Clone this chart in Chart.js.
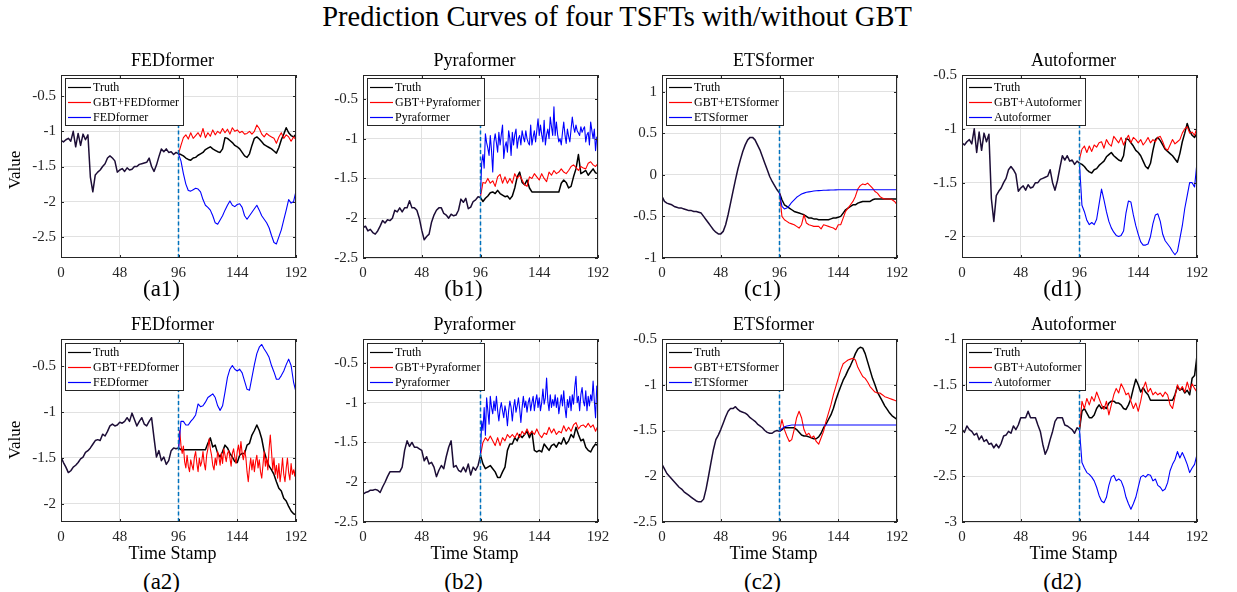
<!DOCTYPE html>
<html><head><meta charset="utf-8">
<script src="https://cdn.jsdelivr.net/npm/chart.js@4.4.0/dist/chart.umd.min.js"></script>
<style>
body{margin:0;background:#fff;}
#fig{position:relative;width:1237px;height:592px;overflow:hidden;font-family:"Liberation Serif","Times New Roman",serif;color:#000;background:#fff;}
.txt{position:absolute;white-space:nowrap;line-height:1;transform:translateX(-50%);}
.vlab{position:absolute;white-space:nowrap;line-height:1;transform:translate(-50%,-50%) rotate(-90deg);}
canvas{position:absolute;}
.legend{position:absolute;background:#fff;border:1px solid #262626;padding:1px 4px 0 2px;font-size:12px;line-height:15px;color:#000;z-index:5;}
.legend .row{display:flex;align-items:center;height:15px;white-space:nowrap;}
.legend svg{display:block;flex:none;margin-right:2px;}
</style></head>
<body>
<div id="fig"></div>
<script>
// ---------------- data ----------------
const timeTicks = [0, 48, 96, 144, 192];
const splitT = 96;

const yTicksA1 = [-2.5, -2, -1.5, -1, -0.5];
const yTicksB1 = [-2.5, -2, -1.5, -1, -0.5];
const yTicksC1 = [-1, -0.5, 0, 0.5, 1];
const yTicksD1 = [-2, -1.5, -1, -0.5];
const yTicksA2 = [-2, -1.5, -1, -0.5];
const yTicksB2 = [-2.5, -2, -1.5, -1, -0.5];
const yTicksC2 = [-2.5, -2, -1.5, -1, -0.5];
const yTicksD2 = [-3, -2.5, -2, -1.5, -1];

// Truth, sampled every 2 time stamps from 0 to 192
const truth_a1d1 = [-1.13,-1.15,-1.12,-1.1,-1.14,-1.0,-1.22,-1.03,-1.2,-1.04,-1.12,-1.05,
 -1.65,-1.86,-1.62,-1.58,-1.55,-1.5,-1.46,-1.38,-1.35,-1.38,-1.42,-1.58,
 -1.55,-1.53,-1.57,-1.52,-1.55,-1.54,-1.5,-1.5,-1.47,-1.46,-1.45,-1.44,
 -1.38,-1.5,-1.57,-1.48,-1.36,-1.25,-1.29,-1.25,-1.3,-1.29,-1.33,-1.3,-1.32,
 -1.33,-1.35,-1.38,-1.4,-1.41,-1.38,-1.37,-1.34,-1.32,-1.3,-1.26,-1.24,
 -1.22,-1.25,-1.27,-1.29,-1.3,-1.25,-1.09,-1.1,-1.13,-1.16,-1.2,-1.22,
 -1.25,-1.3,-1.35,-1.37,-1.32,-1.2,-1.1,-1.08,-1.11,-1.15,-1.19,-1.21,
 -1.23,-1.25,-1.28,-1.31,-1.23,-1.12,-1.04,-0.95,-1.02,-1.06,-1.08,-1.04];
const truth_b1 = [-2.12,-2.1,-2.16,-2.14,-2.18,-2.2,-2.16,-2.1,-2.03,-2.06,-2.02,-2.03,
 -2.0,-1.9,-1.92,-1.87,-1.92,-1.87,-1.87,-1.78,-1.87,-1.87,-1.9,-2.0,
 -2.15,-2.27,-2.23,-2.2,-2.05,-1.96,-1.9,-1.87,-1.87,-1.94,-1.96,-2.0,
 -1.95,-1.97,-1.96,-1.9,-1.76,-1.8,-1.75,-1.88,-1.86,-1.79,-1.77,-1.73,-1.74,
 -1.79,-1.75,-1.72,-1.68,-1.67,-1.69,-1.65,-1.69,-1.71,-1.73,-1.72,-1.76,
 -1.72,-1.62,-1.48,-1.42,-1.55,-1.58,-1.52,-1.62,-1.67,-1.67,-1.67,-1.67,
 -1.67,-1.67,-1.67,-1.67,-1.67,-1.67,-1.67,-1.67,-1.56,-1.52,-1.55,-1.62,
 -1.6,-1.48,-1.38,-1.2,-1.44,-1.42,-1.4,-1.46,-1.42,-1.38,-1.43,-1.44];
const truth_c1 = [-0.26,-0.32,-0.34,-0.35,-0.36,-0.38,-0.39,-0.4,-0.4,-0.41,-0.42,-0.43,
 -0.43,-0.44,-0.44,-0.45,-0.46,-0.5,-0.54,-0.58,-0.62,-0.66,-0.69,-0.71,
 -0.71,-0.68,-0.6,-0.48,-0.34,-0.2,-0.06,0.07,0.18,0.28,0.36,0.42,
 0.45,0.45,0.42,0.36,0.3,0.22,0.14,0.06,-0.02,-0.08,-0.13,-0.18,-0.22,
 -0.3,-0.36,-0.38,-0.4,-0.42,-0.44,-0.45,-0.46,-0.47,-0.48,-0.5,-0.52,
 -0.52,-0.53,-0.53,-0.54,-0.54,-0.54,-0.54,-0.54,-0.53,-0.52,-0.52,-0.51,
 -0.5,-0.46,-0.42,-0.4,-0.38,-0.36,-0.36,-0.34,-0.33,-0.32,-0.32,-0.32,
 -0.32,-0.3,-0.29,-0.29,-0.29,-0.29,-0.29,-0.29,-0.29,-0.29,-0.29,-0.29];
const truth_a2 = [-1.49,-1.55,-1.6,-1.66,-1.64,-1.6,-1.58,-1.55,-1.51,-1.49,-1.44,-1.42,
 -1.39,-1.35,-1.31,-1.3,-1.31,-1.24,-1.26,-1.21,-1.15,-1.13,-1.15,-1.14,
 -1.11,-1.12,-1.1,-1.06,-1.1,-1.01,-1.08,-1.15,-1.1,-1.06,-1.13,-1.15,
 -1.1,-1.06,-1.28,-1.49,-1.42,-1.53,-1.49,-1.57,-1.53,-1.42,-1.39,-1.4,-1.39,
 -1.41,-1.41,-1.41,-1.41,-1.41,-1.41,-1.41,-1.41,-1.41,-1.41,-1.41,-1.34,
 -1.28,-1.38,-1.36,-1.45,-1.49,-1.43,-1.36,-1.39,-1.45,-1.49,-1.54,-1.55,
 -1.47,-1.45,-1.45,-1.36,-1.34,-1.25,-1.2,-1.14,-1.2,-1.29,-1.43,-1.52,
 -1.59,-1.63,-1.68,-1.76,-1.83,-1.86,-1.94,-1.97,-2.03,-2.08,-2.11,-2.12];
const truth_b2 = [-2.15,-2.13,-2.12,-2.1,-2.1,-2.09,-2.1,-2.13,-2.06,-2.0,-1.93,-1.87,
 -1.87,-1.87,-1.87,-1.87,-1.81,-1.6,-1.48,-1.55,-1.5,-1.56,-1.56,-1.58,
 -1.6,-1.73,-1.68,-1.77,-1.75,-1.81,-1.93,-1.85,-1.79,-1.83,-1.68,-1.56,
 -1.48,-1.81,-1.79,-1.85,-1.87,-1.81,-1.87,-1.77,-1.91,-1.81,-1.85,-1.79,-1.66,
 -1.77,-1.83,-1.81,-1.79,-1.83,-1.87,-1.94,-1.94,-1.87,-1.81,-1.6,-1.52,
 -1.52,-1.44,-1.48,-1.4,-1.44,-1.4,-1.36,-1.44,-1.36,-1.6,-1.62,-1.6,
 -1.62,-1.52,-1.56,-1.6,-1.54,-1.52,-1.56,-1.5,-1.52,-1.44,-1.52,-1.48,
 -1.4,-1.44,-1.31,-1.4,-1.48,-1.46,-1.56,-1.6,-1.62,-1.56,-1.52,-1.54];
const truth_c2 = [-1.87,-1.92,-1.97,-2.0,-2.03,-2.06,-2.09,-2.12,-2.14,-2.17,-2.19,-2.21,
 -2.23,-2.25,-2.27,-2.28,-2.28,-2.25,-2.14,-2.0,-1.85,-1.71,-1.6,-1.55,
 -1.49,-1.42,-1.35,-1.29,-1.26,-1.26,-1.24,-1.27,-1.29,-1.3,-1.31,-1.33,
 -1.36,-1.38,-1.4,-1.43,-1.45,-1.47,-1.5,-1.52,-1.53,-1.53,-1.51,-1.5,-1.51,
 -1.49,-1.47,-1.47,-1.47,-1.47,-1.47,-1.49,-1.52,-1.55,-1.56,-1.56,-1.57,
 -1.58,-1.59,-1.59,-1.57,-1.53,-1.47,-1.43,-1.38,-1.33,-1.26,-1.17,-1.09,
 -1.02,-0.95,-0.9,-0.84,-0.79,-0.73,-0.66,-0.61,-0.59,-0.6,-0.66,-0.75,
 -0.84,-0.93,-1.0,-1.08,-1.13,-1.18,-1.23,-1.27,-1.31,-1.34,-1.36,-1.38];
const truth_d2 = [-1.99,-2.02,-1.95,-1.99,-2.01,-2.05,-2.03,-2.1,-2.06,-2.12,-2.1,-2.15,
 -2.14,-2.19,-2.15,-2.19,-2.14,-2.06,-2.05,-2.01,-2.03,-1.95,-1.99,-1.94,
 -1.86,-1.86,-1.86,-1.79,-1.86,-1.86,-1.86,-1.94,-2.01,-2.15,-2.26,-2.2,
 -2.1,-2.01,-1.9,-1.86,-1.86,-1.86,-1.94,-1.95,-1.97,-1.99,-2.03,-1.97,-1.99,
 -1.79,-1.76,-1.81,-1.86,-1.86,-1.83,-1.76,-1.72,-1.76,-1.74,-1.76,-1.7,
 -1.68,-1.68,-1.7,-1.7,-1.72,-1.76,-1.77,-1.72,-1.65,-1.54,-1.44,-1.5,
 -1.58,-1.53,-1.58,-1.61,-1.67,-1.67,-1.67,-1.67,-1.67,-1.67,-1.67,-1.67,
 -1.67,-1.67,-1.61,-1.52,-1.56,-1.54,-1.59,-1.56,-1.61,-1.43,-1.4,-1.18];

// Predictions from time stamp 96 to 192 (GBT+model in red, plain model in blue)
const gbt_a1 = [-1.32,-1.2,-1.09,-1.05,-1.11,-1.02,-1.1,-1.06,-1.02,-1.08,-0.96,-1.09,
 -1.02,-1.07,-0.98,-1.05,-1.0,-1.03,-0.96,-1.02,-0.97,-1.04,-0.95,-1.0,
 -0.98,-1.02,-1.0,-1.04,-1.03,-1.0,-1.04,-1.0,-0.91,-0.96,-1.04,-1.08,
 -1.03,-1.06,-1.08,-1.1,-1.17,-1.08,-1.02,-1.1,-1.05,-1.08,-1.14,-1.08,-1.12];
const base_a1 = [-1.32,-1.42,-1.6,-1.75,-1.84,-1.85,-1.83,-1.81,-1.82,-1.86,-1.97,-2.05,
 -2.08,-2.12,-2.2,-2.3,-2.32,-2.26,-2.2,-2.12,-2.05,-1.99,-2.05,-2.07,
 -2.04,-2.03,-2.08,-2.2,-2.25,-2.2,-2.15,-2.1,-2.05,-2.12,-2.2,-2.25,
 -2.3,-2.37,-2.48,-2.58,-2.6,-2.5,-2.4,-2.26,-2.12,-1.97,-2.02,-2.0,-1.85];
const gbt_b1 = [-1.73,-1.55,-1.56,-1.5,-1.56,-1.53,-1.6,-1.48,-1.45,-1.56,-1.48,-1.56,
 -1.5,-1.56,-1.44,-1.5,-1.46,-1.52,-1.58,-1.6,-1.48,-1.5,-1.44,-1.48,
 -1.52,-1.44,-1.5,-1.54,-1.42,-1.46,-1.4,-1.44,-1.42,-1.38,-1.42,-1.44,
 -1.4,-1.35,-1.33,-1.36,-1.4,-1.35,-1.37,-1.38,-1.31,-1.29,-1.33,-1.35,-1.31];
const base_b1 = [-1.7,-1.3,-1.2,-1.37,-0.94,-1.05,-1.12,-1.21,-0.96,-1.15,
 -1.42,-1.04,-0.94,-1.05,-1.17,-0.92,-1.08,-0.95,-0.83,-1.25,
 -1.1,-1.04,-1.17,-0.9,-1.0,-1.21,-0.92,-1.08,-0.95,-0.88,
 -1.12,-1.0,-0.96,-1.08,-0.9,-0.98,-1.04,-0.9,-1.0,-1.05,
 -1.08,-0.83,-1.08,-0.98,-0.9,-1.04,-0.9,-0.75,-0.96,-0.83,
 -0.95,-1.04,-0.77,-1.08,-0.95,-0.88,-1.0,-0.73,-0.85,-0.96,
 -0.6,-0.96,-0.79,-0.95,-1.04,-1.0,-1.08,-0.92,-0.79,-0.95,
 -1.06,-0.88,-0.97,-1.04,-0.88,-0.73,-0.85,-0.92,-0.83,-0.9,
 -0.93,-0.96,-0.85,-0.92,-0.88,-0.85,-1.04,-0.95,-0.92,-1.08,
 -0.79,-0.9,-1.0,-0.88,-1.15,-0.98,-1.0];
const gbt_c1 = [-0.22,-0.5,-0.54,-0.56,-0.58,-0.59,-0.6,-0.62,-0.64,-0.6,-0.48,-0.58,
 -0.6,-0.61,-0.62,-0.62,-0.62,-0.65,-0.6,-0.61,-0.62,-0.63,-0.64,-0.66,
 -0.6,-0.6,-0.52,-0.44,-0.4,-0.36,-0.32,-0.26,-0.17,-0.13,-0.11,-0.12,
 -0.1,-0.13,-0.16,-0.2,-0.22,-0.26,-0.28,-0.29,-0.29,-0.29,-0.3,-0.32,-0.36];
const base_c1 = [-0.22,-0.38,-0.41,-0.4,-0.37,-0.33,-0.3,-0.27,-0.25,-0.23,-0.22,-0.21,
 -0.205,-0.2,-0.195,-0.192,-0.19,-0.188,-0.186,-0.185,-0.184,-0.183,-0.182,-0.181,-0.18,
 -0.18,-0.18,-0.18,-0.18,-0.18,-0.18,-0.18,-0.18,-0.18,-0.18,-0.18,-0.18,
 -0.18,-0.18,-0.18,-0.18,-0.18,-0.18,-0.18,-0.18,-0.18,-0.18,-0.18,-0.18];
const gbt_d1 = [-1.28,-1.19,-1.16,-1.22,-1.16,-1.21,-1.15,-1.17,-1.13,-1.12,-1.18,-1.1,
 -1.14,-1.16,-1.07,-1.1,-1.13,-1.08,-1.15,-1.1,-1.06,-1.13,-1.08,-1.1,
 -1.13,-1.1,-1.15,-1.12,-1.08,-1.13,-1.1,-1.12,-1.08,-1.07,-1.12,-1.18,
 -1.2,-1.15,-1.1,-1.14,-1.12,-1.1,-1.04,-1.0,-0.98,-1.04,-1.03,-1.06,-0.99];
const base_d1 = [-1.33,-1.71,-1.77,-1.85,-1.89,-1.87,-1.89,-1.84,-1.7,-1.56,
 -1.66,-1.77,-1.86,-1.92,-1.96,-1.99,-2.0,-1.99,-1.95,-1.78,
 -1.67,-1.68,-1.8,-1.9,-1.98,-2.05,-2.08,-2.08,-2.07,-2.0,
 -1.88,-1.8,-1.79,-1.86,-1.98,-2.04,-2.07,-2.1,-2.14,-2.17,
 -2.14,-2.02,-1.9,-1.74,-1.62,-1.5,-1.5,-1.54,-1.31];
const gbt_a2 = [-1.41,-1.2,-1.36,-1.45,-1.37,-1.54,-1.61,-1.47,-1.59,-1.65,
 -1.52,-1.58,-1.63,-1.49,-1.43,-1.56,-1.65,-1.5,-1.59,-1.54,
 -1.43,-1.56,-1.63,-1.47,-1.4,-1.29,-1.4,-1.47,-1.58,-1.63,
 -1.5,-1.58,-1.43,-1.49,-1.58,-1.45,-1.56,-1.4,-1.47,-1.54,
 -1.45,-1.42,-1.5,-1.59,-1.45,-1.4,-1.49,-1.56,-1.43,-1.36,
 -1.47,-1.32,-1.45,-1.52,-1.42,-1.49,-1.65,-1.76,-1.61,-1.5,
 -1.63,-1.52,-1.65,-1.54,-1.47,-1.61,-1.52,-1.65,-1.72,-1.58,
 -1.43,-1.59,-1.5,-1.63,-1.4,-1.25,-1.43,-1.63,-1.5,-1.68,
 -1.58,-1.72,-1.56,-1.76,-1.65,-1.5,-1.68,-1.76,-1.61,-1.5,
 -1.66,-1.74,-1.56,-1.68,-1.63,-1.7,-1.54];
const base_a2 = [-1.41,-1.1,-1.1,-1.14,-1.14,-1.1,-1.07,-1.03,-0.91,-0.94,-0.93,-0.89,
 -0.84,-0.82,-0.8,-0.84,-0.93,-0.98,-0.93,-0.78,-0.62,-0.53,-0.49,-0.53,
 -0.55,-0.53,-0.57,-0.66,-0.75,-0.76,-0.62,-0.48,-0.36,-0.29,-0.26,-0.31,
 -0.35,-0.4,-0.49,-0.56,-0.64,-0.64,-0.6,-0.55,-0.48,-0.42,-0.49,-0.67,-0.78];
const gbt_b2 = [-1.66,-1.5,-1.44,-1.48,-1.42,-1.48,-1.54,-1.44,-1.54,-1.44,-1.48,-1.4,
 -1.44,-1.4,-1.44,-1.38,-1.44,-1.36,-1.4,-1.33,-1.4,-1.36,-1.4,-1.33,
 -1.4,-1.44,-1.38,-1.4,-1.31,-1.38,-1.33,-1.4,-1.36,-1.38,-1.29,-1.36,
 -1.31,-1.36,-1.28,-1.25,-1.33,-1.29,-1.28,-1.31,-1.26,-1.31,-1.28,-1.36,-1.29];
const base_b2 = [-1.64,-1.23,-1.35,-1.06,-1.41,-0.94,-1.1,-1.27,-0.92,-1.06,
 -1.14,-0.98,-1.1,-0.92,-1.1,-1.23,-1.08,-1.0,-1.1,-1.19,
 -1.04,-1.12,-1.29,-1.1,-0.98,-1.06,-1.23,-1.06,-0.96,-1.12,
 -1.04,-0.94,-1.08,-1.25,-1.06,-0.92,-1.06,-0.98,-1.12,-1.0,
 -0.94,-1.1,-1.0,-0.92,-1.1,-0.98,-0.9,-1.06,-0.94,-1.1,
 -1.0,-0.83,-1.02,-0.94,-0.69,-0.98,-1.1,-0.9,-1.06,-0.96,
 -1.04,-0.9,-1.06,-0.94,-1.14,-1.02,-0.9,-1.04,-0.85,-1.06,
 -1.19,-0.96,-1.06,-0.92,-1.1,-0.9,-1.02,-0.81,-0.67,-1.0,
 -0.92,-1.1,-0.9,-0.81,-0.98,-1.04,-0.85,-1.1,-0.92,-1.04,
 -0.9,-0.98,-0.73,-0.98,-1.19,-0.79,-0.98];
const gbt_c2 = [-1.51,-1.38,-1.49,-1.56,-1.62,-1.6,-1.49,-1.36,-1.29,-1.36,-1.49,-1.55,
 -1.53,-1.58,-1.56,-1.62,-1.65,-1.58,-1.51,-1.4,-1.31,-1.22,-1.11,-1.02,
 -0.93,-0.84,-0.77,-0.75,-0.73,-0.72,-0.71,-0.73,-0.81,-0.86,-0.91,-0.93,
 -0.97,-1.02,-1.05,-1.08,-1.09,-1.09,-1.11,-1.13,-1.14,-1.15,-1.16,-1.17,-1.18];
const base_c2 = [-1.51,-1.48,-1.46,-1.45,-1.445,
 -1.44,-1.44,-1.44,-1.44,-1.44,-1.44,-1.44,-1.44,-1.44,-1.44,-1.44,
 -1.44,-1.44,-1.44,-1.44,-1.44,-1.44,-1.44,-1.44,-1.44,-1.44,-1.44,
 -1.44,-1.44,-1.44,-1.44,-1.44,-1.44,-1.44,-1.44,-1.44,-1.44,-1.44,
 -1.44,-1.44,-1.44,-1.44,-1.44,-1.44,-1.44,-1.44,-1.44,-1.44,-1.44];
const gbt_d2 = [-1.99,-1.68,-1.76,-1.65,-1.72,-1.63,-1.68,-1.58,-1.65,-1.72,-1.77,-1.68,
 -1.83,-1.72,-1.61,-1.54,-1.59,-1.49,-1.54,-1.61,-1.59,-1.68,-1.76,-1.7,
 -1.79,-1.68,-1.54,-1.47,-1.58,-1.54,-1.61,-1.58,-1.61,-1.59,-1.63,-1.58,
 -1.61,-1.72,-1.76,-1.63,-1.5,-1.56,-1.52,-1.58,-1.47,-1.56,-1.49,-1.54,-1.58];
const base_d2 = [-1.99,-2.35,-2.41,-2.46,-2.48,-2.51,-2.55,-2.62,-2.71,-2.77,-2.79,-2.73,
 -2.6,-2.51,-2.49,-2.55,-2.53,-2.55,-2.62,-2.73,-2.8,-2.86,-2.8,-2.73,
 -2.62,-2.51,-2.49,-2.51,-2.48,-2.49,-2.55,-2.53,-2.6,-2.62,-2.66,-2.64,
 -2.57,-2.44,-2.37,-2.32,-2.23,-2.3,-2.24,-2.3,-2.37,-2.46,-2.41,-2.37,-2.26];

// ---------------- layout ----------------
const colLeft = [61, 363, 662, 962];
const rowTop = [73, 337];
const plotW = 235, plotH = 185;
const YW = 50, PT = 12, PR = 18, XH = 30;
const FONT = '"Liberation Serif","Times New Roman",serif';

const panels = [
 {col:0,row:0,title:'FEDformer',tag:'(a1)',yMin:-2.8,yMax:-0.2,yTicks:yTicksA1,truth:truth_a1d1,gbt:gbt_a1,gbtStep:2,base:base_a1,baseStep:2,model:'FEDformer'},
 {col:1,row:0,title:'Pyraformer',tag:'(b1)',yMin:-2.5,yMax:-0.2,yTicks:yTicksB1,truth:truth_b1,gbt:gbt_b1,gbtStep:2,base:base_b1,baseStep:1,model:'Pyraformer'},
 {col:2,row:0,title:'ETSformer',tag:'(c1)',yMin:-1,yMax:1.2,yTicks:yTicksC1,truth:truth_c1,gbt:gbt_c1,gbtStep:2,base:base_c1,baseStep:2,model:'ETSformer'},
 {col:3,row:0,title:'Autoformer',tag:'(d1)',yMin:-2.2,yMax:-0.5,yTicks:yTicksD1,truth:truth_a1d1,gbt:gbt_d1,gbtStep:2,base:base_d1,baseStep:2,model:'Autoformer'},
 {col:0,row:1,title:'FEDformer',tag:'(a2)',yMin:-2.2,yMax:-0.2,yTicks:yTicksA2,truth:truth_a2,gbt:gbt_a2,gbtStep:1,base:base_a2,baseStep:2,model:'FEDformer'},
 {col:1,row:1,title:'Pyraformer',tag:'(b2)',yMin:-2.5,yMax:-0.2,yTicks:yTicksB2,truth:truth_b2,gbt:gbt_b2,gbtStep:2,base:base_b2,baseStep:1,model:'Pyraformer'},
 {col:2,row:1,title:'ETSformer',tag:'(c2)',yMin:-2.5,yMax:-0.5,yTicks:yTicksC2,truth:truth_c2,gbt:gbt_c2,gbtStep:2,base:base_c2,baseStep:2,model:'ETSformer'},
 {col:3,row:1,title:'Autoformer',tag:'(d2)',yMin:-3,yMax:-1,yTicks:yTicksD2,truth:truth_d2,gbt:gbt_d2,gbtStep:2,base:base_d2,baseStep:2,model:'Autoformer'}
];

function pts(start, step, vals){ return vals.map((v,i)=>({x:start+i*step, y:v})); }

const fig = document.getElementById('fig');
function addText(txt, cls, left, top, size){
  const d = document.createElement('div');
  d.className = cls; d.textContent = txt;
  d.style.left = left+'px'; d.style.top = top+'px'; d.style.fontSize = size+'px';
  fig.appendChild(d); return d;
}

addText('Prediction Curves of four TSFTs with/without GBT','txt',617,3,28.5);

const framePlugin = {
  id:'frame',
  afterDatasetsDraw(chart){
    const {ctx, chartArea:a, scales:{x,y}} = chart;
    ctx.save();
    ctx.strokeStyle = '#262626'; ctx.lineWidth = 1;
    ctx.beginPath();
    x.ticks.forEach(t=>{
      const px = Math.round(x.getPixelForValue(t.value))+0.5;
      ctx.moveTo(px,a.bottom); ctx.lineTo(px,a.bottom-3);
      ctx.moveTo(px,a.top); ctx.lineTo(px,a.top+3);
    });
    y.ticks.forEach(t=>{
      const py = Math.round(y.getPixelForValue(t.value))+0.5;
      ctx.moveTo(a.left,py); ctx.lineTo(a.left+3,py);
      ctx.moveTo(a.right,py); ctx.lineTo(a.right-3,py);
    });
    ctx.stroke();
    ctx.strokeRect(Math.round(a.left)+0.5, Math.round(a.top)+0.5, Math.round(a.width)-1, Math.round(a.height)-1);
    ctx.restore();
  }
};

Chart.defaults.font.family = FONT;
const SVGNS = 'http://www.w3.org/2000/svg';

panels.forEach((p)=>{
  const L = colLeft[p.col], T = rowTop[p.row];
  const cv = document.createElement('canvas');
  const cw = YW + plotW + PR, ch = PT + plotH + XH;
  cv.width = cw; cv.height = ch;
  cv.style.left = (L - YW)+'px'; cv.style.top = (T - PT)+'px';
  cv.style.width = cw+'px'; cv.style.height = ch+'px';
  fig.appendChild(cv);

  const cx = L + plotW/2;
  addText(p.title,'txt',cx-6, p.row===0 ? 51 : 315, 18);
  addText(p.tag,'txt',cx-17, p.row===0 ? 277 : 570, 23);
  if (p.row===1) addText('Time Stamp','txt',cx-6,544,18);
  if (p.col===0) addText('Value','vlab',14, p.row===0 ? 170 : 440, 17);

  // legend
  const lg = document.createElement('div');
  lg.className = 'legend';
  lg.style.left = (L+4)+'px'; lg.style.top = (T + (p.row===0?5:6))+'px';
  [['Truth','#000000'],['GBT+'+p.model,'#ff0000'],[p.model,'#0000ff']].forEach(([n,c])=>{
    const r = document.createElement('div'); r.className='row';
    const s = document.createElementNS(SVGNS,'svg');
    s.setAttribute('width','23'); s.setAttribute('height','3');
    const ln = document.createElementNS(SVGNS,'line');
    ln.setAttribute('x1','0'); ln.setAttribute('x2','23'); ln.setAttribute('y1','1.5'); ln.setAttribute('y2','1.5');
    ln.setAttribute('stroke',c); ln.setAttribute('stroke-width','1.2');
    s.appendChild(ln);
    const t = document.createElement('span'); t.textContent = n;
    r.appendChild(s); r.appendChild(t); lg.appendChild(r);
  });
  fig.appendChild(lg);

  new Chart(cv, {
    type:'line',
    data:{datasets:[
      {data:[{x:splitT,y:p.yMin},{x:splitT,y:p.yMax}], borderColor:'#0072BD', borderWidth:1.5, borderDash:[4,2.5]},
      {data:pts(splitT,p.baseStep,p.base), borderColor:'#0000ff', borderWidth:1.1},
      {data:pts(splitT,p.gbtStep,p.gbt), borderColor:'#ff0000', borderWidth:1.1},
      {data:pts(0,2,p.truth), borderColor:'#000000', borderWidth:1.5,
        segment:{borderColor: c => (c.p1.parsed.x <= splitT ? '#1c0d36' : '#000000')}}
    ]},
    options:{
      animation:false, responsive:false, maintainAspectRatio:false, devicePixelRatio:1,
      layout:{padding:{left:0,right:PR,top:PT,bottom:0}},
      plugins:{legend:{display:false}, tooltip:{enabled:false}, title:{display:false}},
      elements:{point:{radius:0}, line:{tension:0, borderJoinStyle:'round', fill:false}},
      scales:{
        x:{type:'linear', min:0, max:192,
          afterBuildTicks: s=>{ s.ticks = timeTicks.map(v=>({value:v})); },
          afterFit: s=>{ s.height = XH; },
          grid:{color:'#e1e1e1', drawTicks:false, lineWidth:1},
          border:{display:false},
          ticks:{padding:6, color:'#262626', font:{family:FONT,size:15}, maxRotation:0, autoSkip:false, callback:v=>String(v)}
        },
        y:{type:'linear', min:p.yMin, max:p.yMax,
          afterBuildTicks: s=>{ s.ticks = p.yTicks.map(v=>({value:v})); },
          afterFit: s=>{ s.width = YW; },
          grid:{color:'#e1e1e1', drawTicks:false, lineWidth:1},
          border:{display:false},
          ticks:{padding:5, color:'#262626', font:{family:FONT,size:15}, autoSkip:false, callback:v=>String(v)}
        }
      }
    },
    plugins:[framePlugin]
  });
});
</script>
</body></html>
